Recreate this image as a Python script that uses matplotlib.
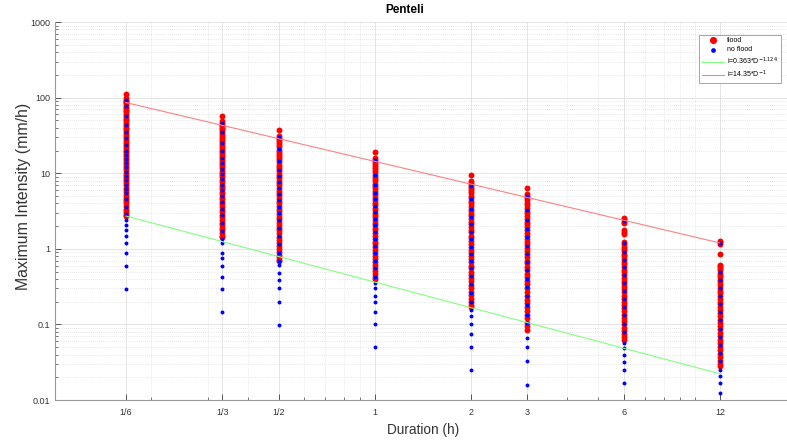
import matplotlib
matplotlib.use("Agg")
import matplotlib.pyplot as plt
from matplotlib.ticker import FixedLocator, LogLocator, NullFormatter

plt.rcParams['font.family'] = ['Liberation Sans', 'DejaVu Sans']

# durations (h) and tick labels
durations = [1/6, 1/3, 1/2, 1, 2, 3, 6, 12]
tick_labels = ["1/6", "1/3", "1/2", "1", "2", "3", "6", "12"]

# maximum intensity (mm/h) per duration, flood events
flood_10m = [112, 98, 94, 90, 87, 84, 80, 76, 72, 69, 66, 62, 59, 56, 53, 50, 47.5, 45,
             42.5, 40, 38, 36, 34, 32, 30, 28.5, 27, 25.5, 24, 22.5, 21, 20, 19, 18, 17,
             16, 15, 14, 13.2, 12.4, 11.6, 10.9, 10.2, 9.6, 9, 8.4, 7.9, 7.4, 6.9, 6.4,
             6, 5.6, 5.2, 4.9, 4.6, 4.3, 4, 3.7, 3.4, 3.2, 3, 2.8, 2.7]
flood_20m = [57, 49, 46, 44, 42, 40, 38, 36, 34, 32, 30, 28.5, 27, 25.5, 24, 22.5, 21, 20,
             19, 18, 17, 16, 15, 14, 13.2, 12.4, 11.6, 10.8, 10, 9.4, 8.8, 8.2, 7.6, 7.1,
             6.6, 6.1, 5.7, 5.3, 4.9, 4.5, 4.2, 3.9, 3.6, 3.3, 3.05, 2.8, 2.6, 2.4, 2.2,
             2.05, 1.9, 1.75, 1.6, 1.5, 1.45]
flood_30m = [37.6, 31, 29.5, 28, 26.5, 25, 23.5, 22, 20.5, 19, 18, 17, 16, 15, 14, 13,
             12.2, 11.4, 10.6, 9.9, 9.2, 8.6, 8, 7.4, 6.9, 6.4, 5.9, 5.5, 5.1, 4.7, 4.35,
             4, 3.7, 3.4, 3.15, 2.9, 2.65, 2.45, 2.25, 2.05, 1.9, 1.75, 1.6, 1.45, 1.3,
             1.2, 1.1, 1.0, 0.92, 0.84, 0.77, 0.72, 0.69]
flood_1h = [19.2, 15.8, 15, 14.2, 13.4, 12.6, 11.8, 11, 10.3, 9.6, 9, 8.4, 7.8, 7.3, 6.8,
            6.3, 5.9, 5.5, 5.1, 4.7, 4.4, 4.1, 3.8, 3.5, 3.25, 3, 2.8, 2.6, 2.4, 2.2,
            2.05, 1.9, 1.75, 1.6, 1.48, 1.36, 1.25, 1.15, 1.05, 0.96, 0.88, 0.8, 0.73,
            0.67, 0.61, 0.56, 0.51, 0.47, 0.43, 0.4]
flood_2h = [9.5, 7.9, 7.4, 7, 6.6, 6.2, 5.8, 5.4, 5, 4.65, 4.3, 4, 3.7, 3.4, 3.15, 2.9,
            2.7, 2.5, 2.3, 2.1, 1.95, 1.8, 1.65, 1.5, 1.38, 1.26, 1.15, 1.05, 0.96, 0.88,
            0.8, 0.73, 0.66, 0.6, 0.55, 0.5, 0.45, 0.41, 0.37, 0.33, 0.3, 0.27, 0.245,
            0.22, 0.2, 0.18, 0.17]
flood_3h = [6.4, 5.3, 5, 4.7, 4.4, 4.1, 3.8, 3.5, 3.2, 2.95, 2.7, 2.5, 2.3, 2.1, 1.93,
            1.77, 1.62, 1.48, 1.35, 1.23, 1.12, 1.02, 0.93, 0.85, 0.77, 0.7, 0.64, 0.58,
            0.52, 0.47, 0.42, 0.38, 0.34, 0.3, 0.27, 0.24, 0.21, 0.19, 0.17, 0.15, 0.135,
            0.12, 0.105, 0.095, 0.085]
flood_6h = [2.57, 2.45, 2.3, 2.2, 1.75, 1.65, 1.55, 1.25, 1.15, 1.07, 1.0, 0.93, 0.86,
            0.8, 0.74, 0.68, 0.63, 0.58, 0.53, 0.49, 0.45, 0.41, 0.38, 0.35, 0.32, 0.29,
            0.265, 0.24, 0.22, 0.2, 0.18, 0.165, 0.15, 0.135, 0.12, 0.11, 0.1, 0.09,
            0.082, 0.075, 0.068, 0.062]
flood_12h = [1.28, 1.22, 1.16, 0.85, 0.62, 0.59, 0.55, 0.52, 0.48, 0.45, 0.42, 0.39, 0.36,
             0.33, 0.305, 0.28, 0.26, 0.24, 0.22, 0.2, 0.185, 0.17, 0.155, 0.14, 0.128,
             0.116, 0.105, 0.095, 0.086, 0.078, 0.07, 0.063, 0.057, 0.051, 0.046, 0.041,
             0.037, 0.033, 0.03, 0.028]

# maximum intensity (mm/h) per duration, no flood
noflood_10m = [92, 78, 57, 44, 35, 29, 23.5, 19.5, 17.5, 15.5, 13.5, 12, 10.5, 9.3, 8.2,
               7.1, 6.2, 5.4, 4.6, 3.6, 2.9,
               2.42, 2.08, 1.78, 1.49, 1.2, 0.885, 0.6, 0.296]
noflood_20m = [46, 35, 25, 19.5, 16, 13.5, 11.5, 9.7, 8.3, 7.1, 6, 5, 4.2, 3.4, 2.8, 2.2,
               1.7, 1.35,
               1.2, 0.885, 0.76, 0.6, 0.43, 0.296, 0.147]
noflood_30m = [30, 21, 14.5, 11, 9.2, 7.7, 6.4, 5.3, 4.4, 3.6, 3, 2.4, 1.9, 1.5, 1.15,
               0.88, 0.7,
               0.61, 0.48, 0.39, 0.3, 0.2, 0.099]
noflood_1h = [15, 9.5, 7, 5.5, 4.5, 3.7, 3.05, 2.5, 2.05, 1.65, 1.35, 1.08, 0.87, 0.7,
              0.55, 0.43,
              0.355, 0.3, 0.24, 0.2, 0.147, 0.102, 0.05]
noflood_2h = [6.8, 4.6, 3.4, 2.65, 2.1, 1.68, 1.34, 1.07, 0.86, 0.69, 0.55, 0.44, 0.34,
              0.26, 0.2,
              0.156, 0.13, 0.1, 0.075, 0.05, 0.025]
noflood_3h = [5, 3.3, 2.4, 1.85, 1.42, 1.1, 0.86, 0.67, 0.52, 0.4, 0.31, 0.235, 0.18,
              0.135,
              0.105, 0.066, 0.05, 0.033, 0.016]
noflood_6h = [2.35, 1.2, 0.92, 0.72, 0.57, 0.45, 0.355, 0.28, 0.22, 0.17, 0.132, 0.102,
              0.079,
              0.057, 0.049, 0.04, 0.032, 0.025, 0.017]
noflood_12h = [1.2, 0.5, 0.39, 0.3, 0.235, 0.185, 0.145, 0.113, 0.088, 0.069, 0.054,
               0.042, 0.033,
               0.025, 0.021, 0.017, 0.0125]

flood = [flood_10m, flood_20m, flood_30m, flood_1h, flood_2h, flood_3h, flood_6h, flood_12h]
noflood = [noflood_10m, noflood_20m, noflood_30m, noflood_1h, noflood_2h, noflood_3h,
           noflood_6h, noflood_12h]

# fitted curves i = a * D^b
lower_a, lower_b = 0.363, -1.124
upper_a, upper_b = 14.35, -1.0

fig = plt.figure(figsize=(7.87, 4.42), dpi=100)
ax = fig.add_axes([0.0699, 0.095, 0.935, 0.855])

for d, vals in zip(durations, flood):
    ax.scatter([d] * len(vals), vals, s=18, color="red", linewidths=0, zorder=3,
               label="flood" if d == durations[0] else None)
for d, vals in zip(durations, noflood):
    ax.scatter([d] * len(vals), vals, s=8, color="blue", linewidths=0, zorder=4,
               label="no flood" if d == durations[0] else None)

d_ends = [durations[0], durations[-1]]
ax.plot(d_ends, [lower_a * d ** lower_b for d in d_ends], color="#80ff80", lw=0.8,
        zorder=5, label=r"i=0.363*D$^{-1.124}$")
ax.plot(d_ends, [upper_a * d ** upper_b for d in d_ends], color="#ff8080", lw=0.8,
        zorder=5, label=r"i=14.35*D$^{-1}$")

ax.set_xscale("log")
ax.set_yscale("log")
ax.set_xlim(0.1, 20)
ax.set_ylim(0.01, 1000)

ax.xaxis.set_major_locator(FixedLocator(durations))
ax.set_xticklabels(tick_labels)
ax.xaxis.set_minor_locator(LogLocator(base=10, subs=range(1, 10)))
ax.xaxis.set_minor_formatter(NullFormatter())
ax.set_yticks([0.01, 0.1, 1, 10, 100, 1000])
ax.set_yticklabels(["0.01", "0.1", "1", "10", "100", "1000"])
ax.yaxis.set_minor_locator(LogLocator(base=10, subs=range(2, 10)))
ax.yaxis.set_minor_formatter(NullFormatter())

ax.grid(True, which="major", color="#e0e0e0", lw=0.6, ls="-")
ax.grid(True, which="minor", color="#d4d4d4", lw=0.5, ls=(0, (1, 2)))
ax.set_axisbelow(True)

ax.tick_params(which="both", direction="in", colors="#404040", labelsize=6.5,
               labelcolor="#333333")
ax.tick_params(which="major", length=4, width=0.6)
ax.tick_params(which="minor", length=2.5, width=0.5)
ax.tick_params(axis="x", pad=6)
for side in ["top", "right"]:
    ax.spines[side].set_visible(False)
for side in ["left", "bottom"]:
    ax.spines[side].set_color("#999999")
    ax.spines[side].set_linewidth(0.8)

ax.set_xlabel("Duration (h)", fontsize=9.8, color="#333333", labelpad=4)
ax.set_ylabel("Maximum Intensity (mm/h)", fontsize=11.4, color="#333333")
ax.yaxis.set_label_coords(-0.0326, 0.54)
fig.suptitle("Penteli", x=0.5145, y=0.99, fontsize=8.5, fontweight="bold")

leg = fig.legend(loc="upper right", bbox_to_anchor=(0.994, 0.925), fontsize=5,
                 frameon=True, fancybox=False, edgecolor="#999999", framealpha=1,
                 handlelength=3.2, handletextpad=0.5, borderpad=0.4, labelspacing=0.3,
                 borderaxespad=0.2, markerscale=1.2)
leg.get_frame().set_linewidth(0.6)

fig.savefig("out.png", dpi=100)
